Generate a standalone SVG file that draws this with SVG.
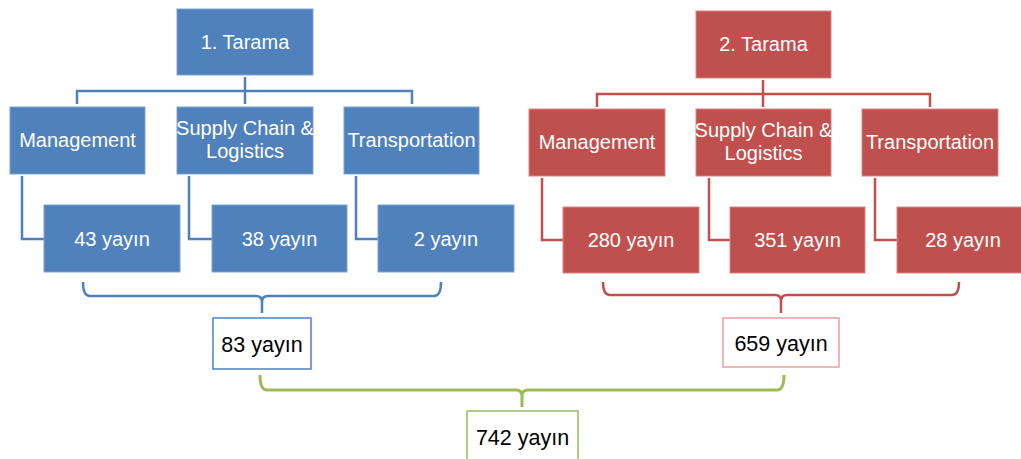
<svg xmlns="http://www.w3.org/2000/svg" width="1021" height="459" viewBox="0 0 1021 459">
<style>
text{font-family:"Liberation Sans",Arial,sans-serif;text-anchor:middle}
.b{fill:#4f81bd;stroke:#7ea3d4;stroke-width:1}
.r{fill:#c0504d;stroke:#d98583;stroke-width:1}
.w{fill:#fff;font-size:20px}
.k{fill:#000;font-size:21.5px}
.lb{fill:none;stroke:#4f81bd;stroke-width:2.5}
.lr{fill:none;stroke:#c0504d;stroke-width:2.5}
.lg{fill:none;stroke:#9bbb59;stroke-width:3}
</style>
<rect width="1021" height="459" fill="#fff"/>
<g id="connectors">
<path class="lb" d="M245,77V104M77,104V91H412V104"/>
<path class="lb" d="M22,176V239H44M189,176V239H212M356,176V239H378"/>
<path class="lb" d="M83,282Q83,296 90,296H256Q262,296 262,302V313M441,282Q441,296 434,296H268Q262,296 262,302"/>
<path class="lr" d="M763,80V107M597,107V94H930V107"/>
<path class="lr" d="M542,178V240H563M709,178V240H730M875,178V240H897"/>
<path class="lr" d="M603,282Q603,295 610,295H775Q781,295 781,301V313M959,282Q959,295 952,295H787Q781,295 781,301"/>
<path class="lg" d="M260,375Q260,390 267,390H516Q522,390 522,396V407M784,375Q784,390 777,390H528Q522,390 522,396"/>
</g>
<g id="tarama1"><rect class="b" x="177" y="9" width="136" height="66"/><text class="w" x="245" y="49">1. Tarama</text></g>
<g id="mgmt1"><rect class="b" x="10" y="107" width="135" height="67"/><text class="w" x="77.5" y="147">Management</text></g>
<g id="scl1"><rect class="b" x="177" y="107" width="136" height="67"/><text class="w" x="245" y="135">Supply Chain &amp;</text><text class="w" x="245" y="158">Logistics</text></g>
<g id="trans1"><rect class="b" x="344" y="107" width="135" height="67"/><text class="w" x="411.5" y="147">Transportation</text></g>
<g id="y43"><rect class="b" x="44" y="205" width="136" height="67"/><text class="w" x="112" y="246">43 yayın</text></g>
<g id="y38"><rect class="b" x="212" y="205" width="135" height="67"/><text class="w" x="279.5" y="246">38 yayın</text></g>
<g id="y2"><rect class="b" x="378" y="205" width="136" height="67"/><text class="w" x="446" y="246">2 yayın</text></g>
<g id="tarama2"><rect class="r" x="696" y="11" width="135" height="67"/><text class="w" x="763.5" y="51">2. Tarama</text></g>
<g id="mgmt2"><rect class="r" x="529" y="109" width="136" height="67"/><text class="w" x="597" y="149">Management</text></g>
<g id="scl2"><rect class="r" x="696" y="109" width="135" height="67"/><text class="w" x="763.5" y="137">Supply Chain &amp;</text><text class="w" x="763.5" y="160">Logistics</text></g>
<g id="trans2"><rect class="r" x="862" y="109" width="136" height="67"/><text class="w" x="930" y="149">Transportation</text></g>
<g id="y280"><rect class="r" x="563" y="207" width="136" height="66"/><text class="w" x="631" y="247">280 yayın</text></g>
<g id="y351"><rect class="r" x="730" y="207" width="135" height="66"/><text class="w" x="797.5" y="247">351 yayın</text></g>
<g id="y28"><rect class="r" x="897" y="207" width="136" height="66"/><text class="w" x="963" y="247">28 yayın</text></g>
<g id="y83"><rect x="213" y="318" width="98" height="51" fill="#fff" stroke="#4f81bd" stroke-width="1.5"/><text class="k" x="262" y="352">83 yayın</text></g>
<g id="y659"><rect x="723" y="318" width="116" height="49" fill="#fff" stroke="#e6a09e" stroke-width="1.5"/><text class="k" x="781" y="351">659 yayın</text></g>
<g id="y742"><rect x="467" y="411" width="111" height="60" fill="#fff" stroke="#9bbb59" stroke-width="1.5"/><text class="k" x="522.5" y="445">742 yayın</text></g>
</svg>
